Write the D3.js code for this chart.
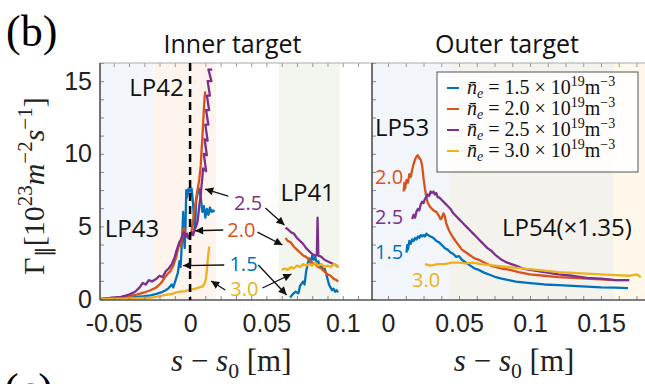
<!DOCTYPE html>
<html>
<head>
<meta charset="utf-8">
<script src="https://cdn.jsdelivr.net/npm/d3@7"></script>
<style>
  body { margin: 0; background: #fff; }
  svg { display: block; }
  text { white-space: pre; }
</style>
</head>
<body>
<svg id="chart" width="645" height="384"></svg>
<script>
// ---- data: [s - s0 (m), Gamma (1e23 m^-2 s^-1)] ----
const densities = ["1.5", "2.0", "2.5", "3.0"];
const colors = ["#0072BD", "#D95319", "#7E2F8E", "#EDB120"];

// inner target, LP43 / LP42
const inner15a = [[-0.058,0],[-0.05,0.05],[-0.045,0.08],[-0.04,0.1],[-0.035,0.15],[-0.03,0.2],[-0.026,0.25],[-0.022,0.35],[-0.019,0.45],[-0.016,0.6],[-0.014,0.75],[-0.012,1.0],[-0.011,0.8],[-0.0095,1.3],[-0.008,1.8],[-0.007,2.6],[-0.0062,2.2],[-0.0055,3.6],[-0.005,4.6],[-0.0045,6.0],[-0.004,4.2],[-0.0035,3.5],[-0.003,5.0],[-0.0025,7.5],[-0.002,7.0],[-0.001,7.6],[0,7.4],[0.001,7.6],[0.002,6.5],[0.003,4.8],[0.0035,5.5],[0.004,6.8],[0.005,7.3],[0.006,7.6],[0.007,7.0],[0.008,6.0],[0.009,6.4],[0.010,5.6],[0.011,6.2],[0.012,5.8],[0.013,6.3],[0.014,6.0],[0.015,6.1],[0.016,6.0]];
const inner20a = [[-0.058,0],[-0.05,0.1],[-0.045,0.15],[-0.04,0.2],[-0.035,0.3],[-0.03,0.45],[-0.026,0.6],[-0.022,0.8],[-0.019,1.1],[-0.017,1.4],[-0.015,1.7],[-0.013,1.9],[-0.011,2.3],[-0.009,2.9],[-0.008,3.4],[-0.007,3.9],[-0.006,3.6],[-0.005,4.4],[-0.004,4.9],[-0.003,4.5],[-0.002,4.3],[-0.001,4.2],[0,4.4],[0.001,4.7],[0.002,5.4],[0.003,6.2],[0.004,6.9],[0.005,7.6],[0.006,8.2],[0.007,9.2],[0.0075,10.2],[0.008,11.0],[0.0085,12.0],[0.009,13.0],[0.0095,13.9],[0.010,14.3]];
const inner25a = [[-0.058,0],[-0.05,0.1],[-0.045,0.15],[-0.04,0.3],[-0.036,0.5],[-0.033,0.8],[-0.031,1.1],[-0.029,1.0],[-0.027,1.3],[-0.025,1.2],[-0.022,1.4],[-0.02,1.6],[-0.018,1.5],[-0.016,1.9],[-0.014,2.1],[-0.012,2.4],[-0.010,2.9],[-0.009,3.3],[-0.008,3.6],[-0.007,3.9],[-0.006,4.1],[-0.005,4.4],[-0.004,4.6],[-0.003,4.3],[-0.002,4.5],[-0.001,4.2],[0,4.3],[0.001,4.6],[0.002,4.4],[0.003,4.8],[0.004,5.0],[0.005,5.4],[0.006,6.4],[0.007,7.2],[0.0075,7.8],[0.008,8.3],[0.0085,9.0],[0.0105,8.8],[0.009,10.0],[0.011,9.9],[0.0095,11.0],[0.0115,10.9],[0.010,12.0],[0.012,12.0],[0.0105,13.0],[0.0125,13.0],[0.011,14.0],[0.013,14.0],[0.0115,15.0],[0.014,15.0],[0.012,15.8],[0.0145,15.8]];
const inner30a = [[-0.058,0],[-0.045,0.02],[-0.035,0.05],[-0.025,0.1],[-0.02,0.2],[-0.015,0.3],[-0.012,0.35],[-0.009,0.45],[-0.006,0.5],[-0.003,0.55],[0,0.65],[0.003,0.7],[0.006,0.8],[0.008,0.85],[0.009,0.95],[0.0095,1.1],[0.010,1.2],[0.0105,1.5],[0.011,2.0],[0.0115,2.6],[0.012,3.1],[0.0125,3.6]];

// inner target, LP41
const inner15b = [[0.0655,0.1],[0.067,0.3],[0.069,0.5],[0.071,0.4],[0.072,0.9],[0.074,1.2],[0.075,1.0],[0.076,1.9],[0.077,2.4],[0.078,2.8],[0.079,2.5],[0.080,3.0],[0.081,2.7],[0.082,2.9],[0.083,2.4],[0.084,2.6],[0.085,2.2],[0.086,2.4],[0.087,2.0],[0.088,2.1],[0.089,1.8],[0.090,1.4],[0.091,1.0],[0.092,0.8],[0.093,0.6],[0.094,0.7],[0.095,0.5],[0.096,0.6],[0.097,0.45]];
const inner20b = [[0.0625,4.2],[0.064,4.0],[0.066,3.9],[0.068,3.6],[0.070,3.4],[0.072,3.2],[0.074,3.0],[0.076,2.9],[0.078,2.7],[0.080,2.5],[0.082,2.4],[0.084,2.2],[0.086,2.1],[0.088,1.9],[0.090,1.7],[0.092,1.6],[0.094,1.4],[0.096,1.3],[0.097,1.2]];
const inner25b = [[0.0625,4.9],[0.064,4.8],[0.066,4.6],[0.068,4.5],[0.070,4.2],[0.072,4.0],[0.074,3.8],[0.076,3.5],[0.078,3.3],[0.080,3.1],[0.082,3.0],[0.083,3.0],[0.0835,5.6],[0.084,3.0],[0.086,2.9],[0.088,2.7],[0.090,2.6],[0.092,2.5],[0.094,2.4],[0.096,2.3],[0.097,2.2]];
const inner30b = [[0.060,2.0],[0.062,2.1],[0.064,2.0],[0.066,2.2],[0.068,2.1],[0.070,2.3],[0.072,2.2],[0.074,2.4],[0.076,2.3],[0.078,2.4],[0.080,2.3],[0.082,2.5],[0.084,2.3],[0.086,2.4],[0.088,2.2],[0.090,2.3],[0.092,2.2],[0.094,2.4],[0.096,2.3],[0.097,2.2]];

// outer target, LP53 / LP54
const outer15 = [[0.013,3.2],[0.0135,3.7],[0.014,3.4],[0.015,4.0],[0.016,3.8],[0.017,4.1],[0.018,4.0],[0.019,4.2],[0.020,4.1],[0.021,4.3],[0.022,4.2],[0.023,4.4],[0.024,4.3],[0.025,4.4],[0.026,4.3],[0.027,4.5],[0.028,4.4],[0.030,4.3],[0.032,4.2],[0.034,4.0],[0.036,3.9],[0.038,3.7],[0.040,3.5],[0.042,3.4],[0.044,3.2],[0.046,3.1],[0.048,2.9],[0.050,2.95],[0.052,2.7],[0.055,2.5],[0.058,2.3],[0.061,2.1],[0.064,2.0],[0.068,1.8],[0.072,1.65],[0.076,1.5],[0.080,1.4],[0.085,1.3],[0.09,1.2],[0.10,1.1],[0.11,1.0],[0.12,0.95],[0.13,0.9],[0.14,0.85],[0.15,0.8],[0.16,0.78],[0.169,0.75]];
const outer20 = [[0.011,7.4],[0.0115,8.0],[0.012,7.6],[0.013,8.2],[0.014,8.0],[0.015,8.6],[0.016,8.4],[0.017,8.9],[0.018,9.3],[0.019,9.6],[0.020,9.8],[0.021,9.9],[0.022,9.7],[0.023,9.6],[0.024,9.2],[0.025,8.3],[0.026,7.6],[0.027,7.0],[0.028,6.6],[0.030,6.3],[0.032,6.1],[0.034,6.0],[0.036,5.7],[0.037,5.5],[0.038,5.6],[0.039,5.9],[0.040,5.7],[0.041,5.2],[0.043,4.7],[0.046,4.2],[0.049,3.8],[0.052,3.4],[0.055,3.2],[0.058,3.0],[0.061,2.8],[0.064,2.7],[0.068,2.5],[0.072,2.3],[0.076,2.2],[0.080,2.1],[0.086,2.0],[0.092,1.85],[0.10,1.7],[0.11,1.6],[0.12,1.5],[0.13,1.45],[0.14,1.4],[0.15,1.35],[0.16,1.3],[0.169,1.3]];
const outer25 = [[0.017,5.5],[0.018,5.8],[0.019,5.6],[0.020,6.0],[0.021,6.2],[0.022,6.1],[0.023,6.5],[0.024,6.7],[0.025,6.6],[0.026,6.9],[0.027,7.0],[0.028,7.2],[0.029,7.1],[0.030,7.4],[0.031,7.3],[0.032,7.4],[0.033,7.2],[0.034,7.3],[0.035,7.0],[0.036,7.0],[0.038,6.8],[0.040,6.6],[0.042,6.4],[0.044,6.2],[0.046,5.9],[0.048,5.7],[0.050,5.5],[0.052,5.3],[0.054,5.1],[0.056,4.9],[0.058,4.7],[0.060,4.5],[0.062,4.3],[0.064,4.1],[0.066,3.9],[0.068,3.7],[0.070,3.5],[0.073,3.3],[0.076,3.0],[0.080,2.7],[0.084,2.5],[0.090,2.3],[0.095,2.1],[0.10,2.0],[0.11,1.85],[0.12,1.7],[0.13,1.6],[0.14,1.45],[0.15,1.4],[0.16,1.3],[0.170,1.3]];
const outer30 = [[0.026,2.4],[0.03,2.3],[0.035,2.4],[0.04,2.4],[0.045,2.5],[0.05,2.5],[0.055,2.45],[0.06,2.5],[0.065,2.4],[0.07,2.35],[0.075,2.3],[0.08,2.25],[0.085,2.2],[0.09,2.15],[0.10,2.05],[0.11,1.95],[0.12,1.85],[0.13,1.8],[0.14,1.75],[0.15,1.7],[0.16,1.65],[0.17,1.6],[0.175,1.7],[0.178,1.5]];

// probe regions (shaded bands)
const innerBands = [[-0.059, -0.024, "#f2f6fb"], [-0.024, 0.017, "#fdf4ee"], [0.058, 0.098, "#f3f6ee"]];
const outerBands = [[-0.0113, 0.043, "#f2f6fb"], [0.043, 0.159, "#f3f2ec"], [0.159, 0.181, "#fef8ea"]];

const innerTicks = [-0.05, 0, 0.05, 0.1];
const outerTicks = [0, 0.05, 0.1, 0.15];
const yTicks = [0, 5, 10, 15];

// ---- layout ----
const svg = d3.select("#chart");
const plotTop = 63, plotBottom = 300;
const xIn = d3.scaleLinear().domain([-0.059, 0.1185]).range([100, 371]);
const xOut = d3.scaleLinear().domain([-0.0113, 0.181]).range([372, 645]);
const y = d3.scaleLinear().domain([0, 16.25]).range([299, plotTop]);

const sans = "'Open Sans', sans-serif";
const serif = "'Liberation Serif', 'Times New Roman', serif";

const defs = svg.append("defs");
defs.append("marker").attr("id", "head")
    .attr("viewBox", "0 0 10 10").attr("refX", 10).attr("refY", 5)
    .attr("markerUnits", "userSpaceOnUse").attr("markerWidth", 9).attr("markerHeight", 8)
    .attr("orient", "auto")
    .append("path").attr("d", "M0,0L10,5L0,10z").attr("fill", "#111");
defs.append("clipPath").attr("id", "clipIn").append("rect")
    .attr("x", 100).attr("y", plotTop).attr("width", 272).attr("height", plotBottom - plotTop);
defs.append("clipPath").attr("id", "clipOut").append("rect")
    .attr("x", 372).attr("y", plotTop).attr("width", 273).attr("height", plotBottom - plotTop);

// helper for text with sub/superscripts
function mathText(g, parts, size) {
    const t = g.append("text").style("font-size", size + "px");
    let shift = 0;
    parts.forEach(p => {
        const target = p.sup ? -0.4 * size : p.sub ? 0.22 * size : 0;
        const ts = t.append("tspan").text(p.t).attr("dy", target - shift);
        shift = target;
        if (p.it) ts.style("font-style", "italic");
        if (p.sup || p.sub) ts.style("font-size", (size * 0.7) + "px");
    });
    return t;
}

const line = x => d3.line().x(d => x(d[0])).y(d => y(d[1]));

function panel(x, bands, clipId, series, ticks, minor) {
    const g = svg.append("g");
    g.selectAll("rect.band").data(bands).join("rect")
        .attr("x", d => x(d[0])).attr("width", d => x(d[1]) - x(d[0]))
        .attr("y", plotTop).attr("height", plotBottom - plotTop)
        .attr("fill", d => d[2]);

    const plot = g.append("g").attr("clip-path", `url(#${clipId})`);
    series.forEach(([data, i]) => {
        plot.append("path").datum(data)
            .attr("d", line(x))
            .attr("fill", "none")
            .attr("stroke", colors[i])
            .attr("stroke-width", 2.3)
            .attr("stroke-linejoin", "round");
    });

    // inward minor ticks, top and bottom
    g.append("g").attr("transform", `translate(0,${plotBottom})`)
        .call(d3.axisBottom(x).tickValues(minor).tickSize(-4).tickFormat(""))
        .call(a => a.select(".domain").remove())
        .selectAll("line").attr("stroke", "#888");
    g.append("g").attr("transform", `translate(0,${plotTop})`)
        .call(d3.axisTop(x).tickValues(minor).tickSize(-4).tickFormat(""))
        .call(a => a.select(".domain").remove())
        .selectAll("line").attr("stroke", "#999");

    // tick labels
    g.append("g").attr("transform", `translate(0,${plotBottom})`)
        .call(d3.axisBottom(x).tickValues(ticks).tickSize(0).tickPadding(14)
            .tickFormat(d => String(d)))
        .call(a => a.select(".domain").remove())
        .selectAll("text")
        .style("font-family", "'Liberation Sans', Arial, sans-serif")
        .style("font-size", "25px").attr("fill", "#222");

    // left edge with y minor ticks
    g.append("g").attr("transform", `translate(${x.range()[0]},0)`)
        .call(d3.axisRight(y).tickValues(d3.range(0, 14).map(k => k * 1.25)).tickSize(4).tickFormat(""))
        .call(a => a.select(".domain").remove())
        .selectAll("line").attr("stroke", "#888");

    // frame
    g.append("line").attr("x1", x.range()[0]).attr("x2", x.range()[1] + 1)
        .attr("y1", plotTop).attr("y2", plotTop).attr("stroke", "#aaa");
    g.append("line").attr("x1", x.range()[0]).attr("x2", x.range()[1] + 1)
        .attr("y1", plotBottom).attr("y2", plotBottom).attr("stroke", "#555").attr("stroke-width", 1.5);
    g.append("line").attr("x1", x.range()[0]).attr("x2", x.range()[0])
        .attr("y1", plotTop).attr("y2", plotBottom).attr("stroke", "#444").attr("stroke-width", 1.5);
    return g;
}

const minorIn = d3.range(-5, 12).map(k => k / 100);
const minorOut = d3.range(0, 15).map(k => k * 0.0125);

const gIn = panel(xIn, innerBands, "clipIn",
    [[inner15a, 0], [inner20a, 1], [inner25a, 2], [inner30a, 3],
     [inner15b, 0], [inner20b, 1], [inner25b, 2], [inner30b, 3]],
    innerTicks, minorIn);
const gOut = panel(xOut, outerBands, "clipOut",
    [[outer15, 0], [outer20, 1], [outer25, 2], [outer30, 3]],
    outerTicks, minorOut);

// dashed line at s = s0 on the inner target
gIn.append("line").attr("x1", xIn(0)).attr("x2", xIn(0))
    .attr("y1", plotTop).attr("y2", plotBottom)
    .attr("stroke", "#000").attr("stroke-width", 2.5).attr("stroke-dasharray", "8,5");

// y tick labels
svg.append("g").attr("transform", `translate(100,0)`)
    .call(d3.axisLeft(y).tickValues(yTicks).tickSize(0).tickPadding(8))
    .call(a => a.select(".domain").remove())
    .selectAll("text")
    .style("font-family", "'Liberation Sans', Arial, sans-serif")
    .style("font-size", "25px").attr("fill", "#222");

// ---- annotations (data coordinates) ----
const innerNotes = [
    {t: "2.5", c: 2, s: 0.038, v: 6.6, from: [0.025, 7.09], to: [0.0099, 7.57]},
    {t: "2.0", c: 1, s: 0.0336, v: 4.75, from: [0.0217, 4.75], to: [0.0033, 4.7]},
    {t: "1.5", c: 0, s: 0.035, v: 2.45, from: [0.0224, 2.34], to: [-0.0046, 2.3]},
    {t: "3.0", c: 3, s: 0.0355, v: 0.72, from: [0.023, 0.62], to: [0.0138, 1.24]}
];
const innerNotes41 = [
    {from: [0.0493, 6.26], to: [0.0618, 5.09]},
    {from: [0.0441, 4.61], to: [0.0605, 3.72]},
    {from: [0.0447, 2.34], to: [0.0632, 0.28]},
    {from: [0.0474, 0.76], to: [0.0664, 1.72]}
];
const outerNotes = [
    {t: "2.0", c: 1, s: 0.0007, v: 8.4},
    {t: "2.5", c: 2, s: 0.0007, v: 5.64},
    {t: "1.5", c: 0, s: 0.0007, v: 3.23},
    {t: "3.0", c: 3, s: 0.0268, v: 1.31}
];
const probeLabels = [
    {t: "LP42", x: xIn, s: -0.022, v: 14.6},
    {t: "LP43", x: xIn, s: -0.038, v: 4.89},
    {t: "LP41", x: xIn, s: 0.077, v: 7.36},
    {t: "LP53", x: xOut, s: 0.0099, v: 11.84},
    {t: "LP54(×1.35)", x: xOut, s: 0.126, v: 4.96}
];

const arrows = svg.append("g");
innerNotes.concat(innerNotes41).forEach(d => {
    arrows.append("line")
        .attr("x1", xIn(d.from[0])).attr("y1", y(d.from[1]))
        .attr("x2", xIn(d.to[0])).attr("y2", y(d.to[1]))
        .attr("stroke", "#111").attr("stroke-width", 1.3)
        .attr("marker-end", "url(#head)");
});

function numLabels(notes, x) {
    svg.append("g").selectAll("text").data(notes).join("text")
        .attr("x", d => x(d.s)).attr("y", d => y(d.v))
        .attr("dy", "0.36em").attr("text-anchor", "middle")
        .style("font-family", sans).style("font-size", "20px")
        .attr("fill", d => colors[d.c])
        .text(d => d.t);
}
numLabels(innerNotes, xIn);
numLabels(outerNotes, xOut);

svg.append("g").selectAll("text").data(probeLabels).join("text")
    .attr("x", d => d.x(d.s)).attr("y", d => y(d.v))
    .attr("dy", "0.36em").attr("text-anchor", "middle")
    .style("font-family", sans).style("font-size", "24px")
    .attr("fill", "#111")
    .text(d => d.t);

// ---- legend ----
const leg = svg.append("g");
leg.append("rect").attr("x", 437).attr("y", 72).attr("width", 201).attr("height", 100)
    .attr("fill", "#fff").attr("fill-opacity", 0.85)
    .attr("stroke", "#555").attr("stroke-width", 1);
densities.forEach((n, i) => {
    const cy = 88 + i * 21;
    leg.append("line").attr("x1", 447).attr("x2", 459).attr("y1", cy).attr("y2", cy)
        .attr("stroke", colors[i]).attr("stroke-width", 2);
    mathText(leg, [
        {t: "n\u0304", it: true}, {t: "e", it: true, sub: true},
        {t: " = " + n + " × 10"}, {t: "19", sup: true}, {t: "m"}, {t: "−3", sup: true}
    ], 20).attr("x", 467).attr("y", cy + 6).style("font-family", serif).attr("fill", "#111");
});

// ---- titles and axis labels ----
svg.append("text").attr("x", xIn(0.0278)).attr("y", 53).attr("text-anchor", "middle")
    .style("font-family", sans).style("font-size", "25px").attr("fill", "#111")
    .text("Inner target");
svg.append("text").attr("x", xOut(0.0838)).attr("y", 53).attr("text-anchor", "middle")
    .style("font-family", sans).style("font-size", "25px").attr("fill", "#111")
    .text("Outer target");

svg.append("text").attr("x", 6).attr("y", 46)
    .style("font-family", serif).style("font-size", "44px").attr("fill", "#000")
    .text("(b)");
svg.append("text").attr("x", 4).attr("y", 404)
    .style("font-family", serif).style("font-size", "44px").attr("fill", "#000")
    .text("(c)");

const yl = svg.append("g").attr("transform", "translate(44,186) rotate(-90)");
mathText(yl, [
    {t: "Γ"}, {t: "∥", sub: true}, {t: "[10"}, {t: "23", sup: true},
    {t: "m", it: true}, {t: "−2", sup: true}, {t: "s", it: true}, {t: "−1", sup: true}, {t: "]"}
], 30).attr("text-anchor", "middle").style("font-family", serif).attr("fill", "#222");

[[xIn, 0.027], [xOut, 0.0888]].forEach(([x, s]) => {
    mathText(svg, [
        {t: "s", it: true}, {t: " − "}, {t: "s", it: true}, {t: "0", sub: true}, {t: " [m]"}
    ], 31).attr("x", x(s)).attr("y", 371).attr("text-anchor", "middle")
        .style("font-family", serif).attr("fill", "#222");
});
</script>
</body>
</html>
